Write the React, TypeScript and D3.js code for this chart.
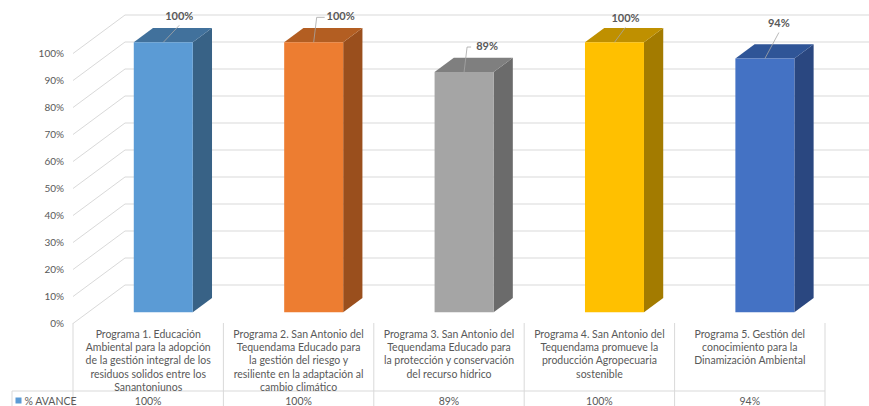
import React from "react";
import * as d3 from "d3";

const categoryLines: string[][] = [
  ["Programa 1. Educación", "Ambiental para la adopción", "de la gestión integral de los", "residuos solidos entre los", "Sanantoniunos"],
  ["Programa 2. San Antonio del", "Tequendama Educado para", "la gestión del riesgo y", "resiliente en la adaptación al", "cambio climático"],
  ["Programa 3. San Antonio del", "Tequendama Educado para", "la protección y conservación", "del recurso hídrico"],
  ["Programa 4. San Antonio del", "Tequendama promueve la", "producción Agropecuaria", "sostenible"],
  ["Programa 5. Gestión del", "conocimiento para la", "Dinamización Ambiental"],
];
const avance: number[] = [1.0, 1.0, 0.89, 1.0, 0.94];
const valueLabels: string[] = ["100%", "100%", "89%", "100%", "94%"];
const yTicks: number[] = [0, 0.1, 0.2, 0.3, 0.4, 0.5, 0.6, 0.7, 0.8, 0.9, 1.0];
const seriesName = "% AVANCE";

const frontColors = ["#5B9BD5", "#ED7D31", "#A5A5A5", "#FFC000", "#4472C4"];
const sideColors = ["#386286", "#9A4F1D", "#6B6B6B", "#A37B00", "#2A4780"];
const topColors = ["#41719C", "#B35E22", "#7F7F7F", "#BF9000", "#2F5597"];

// label offsets relative to bar top-front centre (layout)
const labelOffsets: [number, number, boolean][] = [
  [16, -26, false],
  [27, -26, true],
  [23, -26, true],
  [11, -24, false],
  [14, -35, false],
];

export default function App() {
  const W = 869, H = 406;
  const left = 73, right = 825;
  const depthX = 52, depthY = 38.5;
  const x = d3.scaleBand<number>().domain(d3.range(avance.length)).range([left, right]).padding(0);
  const y = d3.scaleLinear().domain([0, 1]).range([323.5, 53.5]);
  const P = (px: number, v: number, d: number): [number, number] => [px + depthX * d, y(v) - depthY * d];
  const d0 = 0.29, dd = 0.37, barW = 59;
  const font = "Lato, 'Open Sans', sans-serif";
  const grid = "#D9D9D9";
  const txt = "#595959";
  const poly = (pts: [number, number][]) => pts.map((p) => p.join(",")).join(" ");

  return (
    <svg width={W} height={H} style={{ position: "absolute", left: 0, top: 0, background: "#fff" }} fontFamily={font}>
      {yTicks.map((t, i) => {
        const [fx, fy] = P(left, t, 0);
        const [bx, by] = P(left, t, 1);
        return (
          <g key={i}>
            <line x1={fx} y1={fy} x2={bx} y2={by} stroke={grid} strokeWidth={1} />
            <line x1={bx} y1={by} x2={right + depthX} y2={by} stroke={grid} strokeWidth={1} />
            <text x={64} y={fy} dy="0.35em" textAnchor="end" fontSize={10} fill={txt}>
              {d3.format(".0%")(t)}
            </text>
          </g>
        );
      })}
      {avance.map((v, i) => {
        const cx = (x(i) as number) + x.bandwidth() / 2;
        const xl = cx - barW / 2, xr = cx + barW / 2;
        const fbl = P(xl, 0, d0), fbr = P(xr, 0, d0), ftl = P(xl, v, d0), ftr = P(xr, v, d0);
        const btl = P(xl, v, d0 + dd), btr = P(xr, v, d0 + dd), bbr = P(xr, 0, d0 + dd);
        return (
          <g key={i}>
            <polygon points={poly([fbr, ftr, btr, bbr])} fill={sideColors[i]} />
            <polygon points={poly([ftl, ftr, btr, btl])} fill={topColors[i]} />
            <polygon points={poly([fbl, fbr, ftr, ftl])} fill={frontColors[i]} />
          </g>
        );
      })}
      {avance.map((v, i) => {
        const cx = (x(i) as number) + x.bandwidth() / 2;
        const [tx, ty] = P(cx, v, d0);
        const [ox, oy, side] = labelOffsets[i];
        const lx = tx + ox, ly = ty + oy;
        const path = side
          ? `M${tx},${ty}L${tx + 3},${ly + 1}L${lx - 16},${ly + 1}`
          : `M${tx},${ty}L${lx},${ly + 9}`;
        return (
          <g key={i}>
            <path d={path} fill="none" stroke="#A6A6A6" strokeWidth={0.8} />
            <text x={lx} y={ly} dy="0.35em" textAnchor="middle" fontSize={11} fontWeight="bold" fill={txt}>
              {valueLabels[i]}
            </text>
          </g>
        );
      })}
      {/* data table */}
      {d3.range(avance.length + 1).map((i) => {
        const xx = i < avance.length ? (x(i) as number) : right;
        return <line key={i} x1={xx} y1={323} x2={xx} y2={H} stroke={grid} strokeWidth={1} />;
      })}
      <line x1={12} y1={391} x2={right} y2={391} stroke={grid} strokeWidth={1} />
      <line x1={12} y1={391} x2={12} y2={H} stroke={grid} strokeWidth={1} />
      <rect x={15.5} y={397.5} width={6} height={6} fill={frontColors[0]} />
      <text x={24.5} y={401} dy="0.35em" fontSize={10.5} fill={txt}>{seriesName}</text>
      {categoryLines.map((lines, i) => {
        const cx = (x(i) as number) + x.bandwidth() / 2;
        return (
          <g key={i}>
            {lines.map((ln, j) => (
              <text key={j} x={cx} y={334 + j * 13.3} dy="0.35em" textAnchor="middle" fontSize={10.5} fill={txt}>
                {ln}
              </text>
            ))}
            <text x={cx} y={401} dy="0.35em" textAnchor="middle" fontSize={10.5} fill={txt}>
              {valueLabels[i]}
            </text>
          </g>
        );
      })}
    </svg>
  );
}
